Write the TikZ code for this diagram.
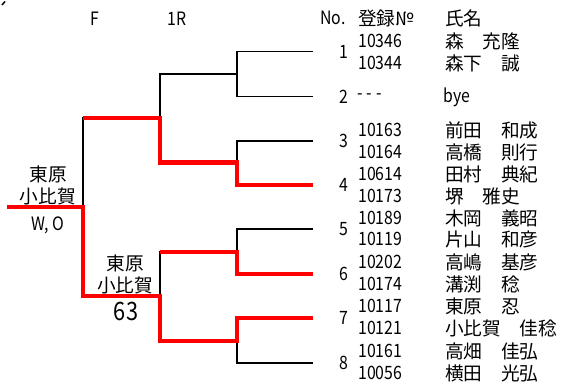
\documentclass[tikz,border=0pt]{standalone}
\usepackage{fontspec}
\setmainfont{Noto Sans CJK JP}
\newfontfamily\numfont{Noto Sans CJK JP}[FakeStretch=0.86]
\definecolor{cR}{rgb}{1,0,0}
\tikzset{myline/.style={
  draw=black,
  line width=1.1pt,
  }
}
\tikzset{myline2/.style={
  draw=cR,
  line width=3pt,
  }
}
\tikzset{mytext/.style={
  inner sep=0pt,
  font=\fontsize{14}{16}\selectfont,
  text=black,
  }
}
\tikzset{mynum/.style={
  inner sep=0pt,
  font=\numfont\fontsize{13.8}{16}\selectfont,
  text=black,
  }
}
\tikzset{myscore/.style={
  inner sep=0pt,
  font=\numfont\fontsize{19}{21}\selectfont,
  text=black,
  }
}

\begin{document}
\begin{tikzpicture}[x=0.75pt, y=-0.75pt]
  \useasboundingbox (0,0) rectangle (561,385);

  % header
  \node [mynum] (hF) at (95,19) {F};
  \node [mynum] (h1R) at (177,19) {1R};
  \node [mynum, anchor=west] (hNo) at (320,18) {No.};
  \node [mytext, anchor=west] (hReg) at (358,18) {登録№};
  \node [mytext, anchor=west] (hName) at (445,18) {氏名};

  % entries
  \node [mynum] (n1) at (344,52) {1};
  \node [mynum, anchor=west] (r1a) at (358,41) {10346};
  \node [mynum, anchor=west] (r1b) at (358,63) {10344};
  \node [mytext, anchor=west] (p1a) at (445,41) {森　充隆};
  \node [mytext, anchor=west] (p1b) at (445,63) {森下　誠};

  \node [mynum] (n2) at (344,97) {2};
  \node [mynum, anchor=west] (r2) at (357,97) {{-}\kern3pt{-}\kern3pt{-}};
  \node [mynum, anchor=west] (p2) at (443,97) {bye};

  \node [mynum] (n3) at (344,141) {3};
  \node [mynum, anchor=west] (r3a) at (358,130) {10163};
  \node [mynum, anchor=west] (r3b) at (358,152) {10164};
  \node [mytext, anchor=west] (p3a) at (445,130) {前田　和成};
  \node [mytext, anchor=west] (p3b) at (445,152) {高橋　則行};

  \node [mynum] (n4) at (344,185) {4};
  \node [mynum, anchor=west] (r4a) at (358,174) {10614};
  \node [mynum, anchor=west] (r4b) at (358,196) {10173};
  \node [mytext, anchor=west] (p4a) at (445,174) {田村　典紀};
  \node [mytext, anchor=west] (p4b) at (445,196) {堺　雅史};

  \node [mynum] (n5) at (344,229) {5};
  \node [mynum, anchor=west] (r5a) at (358,218) {10189};
  \node [mynum, anchor=west] (r5b) at (358,239) {10119};
  \node [mytext, anchor=west] (p5a) at (445,218) {木岡　義昭};
  \node [mytext, anchor=west] (p5b) at (445,239) {片山　和彦};

  \node [mynum] (n6) at (344,274) {6};
  \node [mynum, anchor=west] (r6a) at (358,262) {10202};
  \node [mynum, anchor=west] (r6b) at (358,284) {10174};
  \node [mytext, anchor=west] (p6a) at (445,262) {高嶋　基彦};
  \node [mytext, anchor=west] (p6b) at (445,284) {溝渕　稔};

  \node [mynum] (n7) at (344,318) {7};
  \node [mynum, anchor=west] (r7a) at (358,306) {10117};
  \node [mynum, anchor=west] (r7b) at (358,328) {10121};
  \node [mytext, anchor=west] (p7a) at (445,306) {東原　忍};
  \node [mytext, anchor=west] (p7b) at (445,328) {小比賀　佳稔};

  \node [mynum] (n8) at (344,363) {8};
  \node [mynum, anchor=west] (r8a) at (358,351) {10161};
  \node [mynum, anchor=west] (r8b) at (358,373) {10056};
  \node [mytext, anchor=west] (p8a) at (445,351) {高畑　佳弘};
  \node [mytext, anchor=west] (p8b) at (445,373) {横田　光弘};

  % bracket points
  \coordinate (e1) at (313,51.7);
  \coordinate (e2) at (313,96.7);
  \coordinate (e3) at (313,141);
  \coordinate (e4) at (313,184.5);
  \coordinate (e5) at (313,229);
  \coordinate (e6) at (313,273.5);
  \coordinate (e7) at (313,318);
  \coordinate (e8) at (313,363);
  \coordinate (m1) at (237,74);
  \coordinate (m2) at (237,162.5);
  \coordinate (m3) at (237,251.5);
  \coordinate (m4) at (237,340.5);
  \coordinate (s1) at (160,118);
  \coordinate (s2) at (160,296);
  \coordinate (f) at (83,207);
  \coordinate (w) at (7,207);

  % black lines
  \draw [myline] (e1) -| (m1) |- (e2);
  \draw [myline] (e3) -| (m2) |- (e4);
  \draw [myline] (e5) -| (m3) |- (e6);
  \draw [myline] (e7) -| (m4) |- (e8);
  \draw [myline] (m1) -| (s1) |- (m2);
  \draw [myline] (m3) -| (s2) |- (m4);
  \draw [myline] (s1) -| (f) |- (s2);

  % winners
  \draw [myline2] (e4) -| (m2) -| (s1) -- (s1 -| f);
  \draw [myline2] (e6) -| (m3) -- (m3 -| s2);
  \draw [myline2] (e7) -| (m4) -| (s2) -| (f) -- (w);

  % results
  \node [mytext] (l1a) at (48,174) {東原};
  \node [mytext] (l1b) at (48,196) {小比賀};
  \node [mynum] (l1c) at (48,225) {W, O};
  \node [mytext] (l2a) at (125,263) {東原};
  \node [mytext] (l2b) at (125,285) {小比賀};
  \node [myscore] (l2c) at (126,311) {63};

  % corner mark
  \coordinate (k1) at (2,5);
  \coordinate (k2) at (5,1.5);
  \draw [myline] (k1) -- (k2);
\end{tikzpicture}
\end{document}
